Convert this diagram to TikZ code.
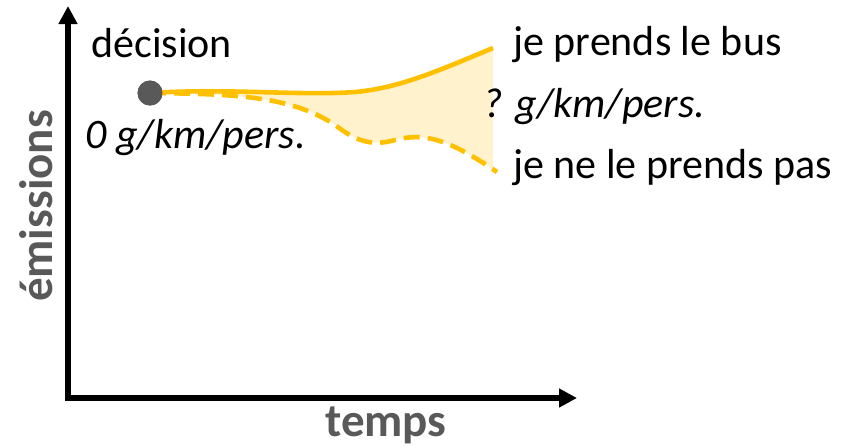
\documentclass[tikz,border=0pt]{standalone}
\usepackage{fontspec}
\setmainfont{Carlito}
\usepackage{tikz}
\usetikzlibrary{arrows.meta,positioning}

\definecolor{gold}{HTML}{FFC000}
\definecolor{paleGold}{HTML}{FFF2CC}
\definecolor{darkGray}{HTML}{595959}

\tikzset{
  axis/.style={line width=3pt,-{Triangle[length=9pt,width=9pt]}},
  path line/.style={gold,line width=2.3pt},
  label text/.style={anchor=base west,inner sep=0pt,font=\fontsize{21}{25}\selectfont},
  axis text/.style={inner sep=0pt,text=darkGray,font=\fontsize{23.5}{28}\selectfont\bfseries}
}

\begin{document}
\begin{tikzpicture}[x=0.5pt,y=-0.5pt]
\useasboundingbox (0,0) rectangle (855,447);

% Axes
\coordinate (top) at (68,6);
\coordinate (origin) at (68,398);
\coordinate (right) at (577,398);
\draw[line width=3pt,{Triangle[length=9pt,width=9pt]}-{Triangle[length=9pt,width=9pt]}] (top) -- (origin) -- (right);

\node[axis text,rotate=90,anchor=base] (emis) at (52,206) {émissions};
\node[axis text,anchor=base] (temps) at (386,436) {temps};

% Decision point and the two outcomes
\node[circle,fill=darkGray,inner sep=0pt,minimum size=12.5pt] (dec) at (150,93) {};
\coordinate (bus) at (493,48);
\coordinate (nobus) at (497,172);

% Gap between both outcomes
\fill[paleGold] (dec.center) .. controls (230,88) and (300,96) .. (355,92)
  .. controls (400,88) and (440,70) .. (bus)
  -- (493,165) -- (nobus)
  .. controls (450,140) and (425,132) .. (395,140)
  .. controls (370,147) and (355,140) .. (335,125)
  .. controls (290,95) and (230,94) .. (dec.center);

\draw[path line] (dec.center) .. controls (230,88) and (300,96) .. (355,92)
  .. controls (400,88) and (440,70) .. (bus);
\draw[path line,dash pattern=on 8pt off 4pt] (dec.center) .. controls (230,94) and (290,95) .. (335,125)
  .. controls (355,140) and (370,147) .. (395,140)
  .. controls (425,132) and (450,140) .. (nobus);
\node[circle,fill=darkGray,inner sep=0pt,minimum size=12.5pt] at (dec) {};

% Labels
\node[label text] (decision) at (91,57) {décision};
\node[label text] (zero) at (85,148) {\itshape 0 g/km/pers.};
\node[label text] (qmark) at (483,117) {\itshape ? g/km/pers.};
\node[label text] (yes) at (513,55) {je prends le bus};
\node[label text] (no) at (513,178) {je ne le prends pas};

\end{tikzpicture}
\end{document}
